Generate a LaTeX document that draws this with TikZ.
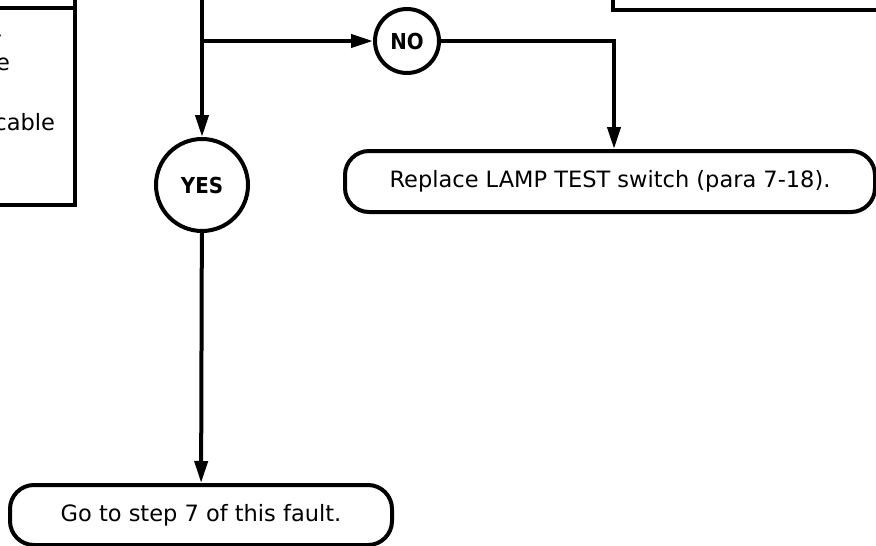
\documentclass[tikz,border=0pt]{standalone}
\usepackage{fontspec}
\setmainfont{DejaVu Sans}
\newfontfamily\condfont{DejaVu Sans Condensed}
\usetikzlibrary{arrows.meta}
\begin{document}
\begin{tikzpicture}[x=1pt,y=-1pt,line width=4pt,
  arr/.style={-{Triangle[length=22pt,width=13pt]}},
  circ/.style={circle,draw,line width=4pt,inner sep=0pt,font=\condfont\fontsize{22}{24}\selectfont\bfseries},
  term/.style={draw,rounded corners=24pt,line width=4pt,inner sep=0pt,font=\fontsize{22.5}{26}\selectfont},
  frag/.style={anchor=base east,inner sep=0pt,font=\fontsize{22.5}{26}\selectfont}
]
\useasboundingbox (0,0) rectangle (876,546);

% fragments of boxes cut by the frame
\draw (613,-3) |- (880,10);
\draw (-3,8) -- (75,8);
\draw (75,-3) -- (75,205) -- (-3,205);
\node[frag] (f1) at (3,47) {r};
\node[frag] (f2) at (12,70) {e};
\node[frag] (f3) at (57,130) {cable};

% nodes
\node[circ,minimum size=92pt] (yes) at (202,185) {YES};
\node[circ,minimum size=64pt] (no) at (407,41) {NO};
\node[term,minimum width=530pt,minimum height=61pt] (rep) at (610,181.5) {Replace LAMP TEST switch (para 7-18).};
\node[term,minimum width=382pt,minimum height=60pt] (go) at (201,515) {Go to step 7 of this fault.};

\coordinate (top) at (202,-3);
\coordinate (br) at (202,41);

% connectors
\draw[arr] (top) -- (yes);
\draw[arr] (br) -- (no);
\draw[arr] (no) -| ([xshift=4pt]rep.north);
\draw[arr] (yes) -- (go);
\end{tikzpicture}
\end{document}
